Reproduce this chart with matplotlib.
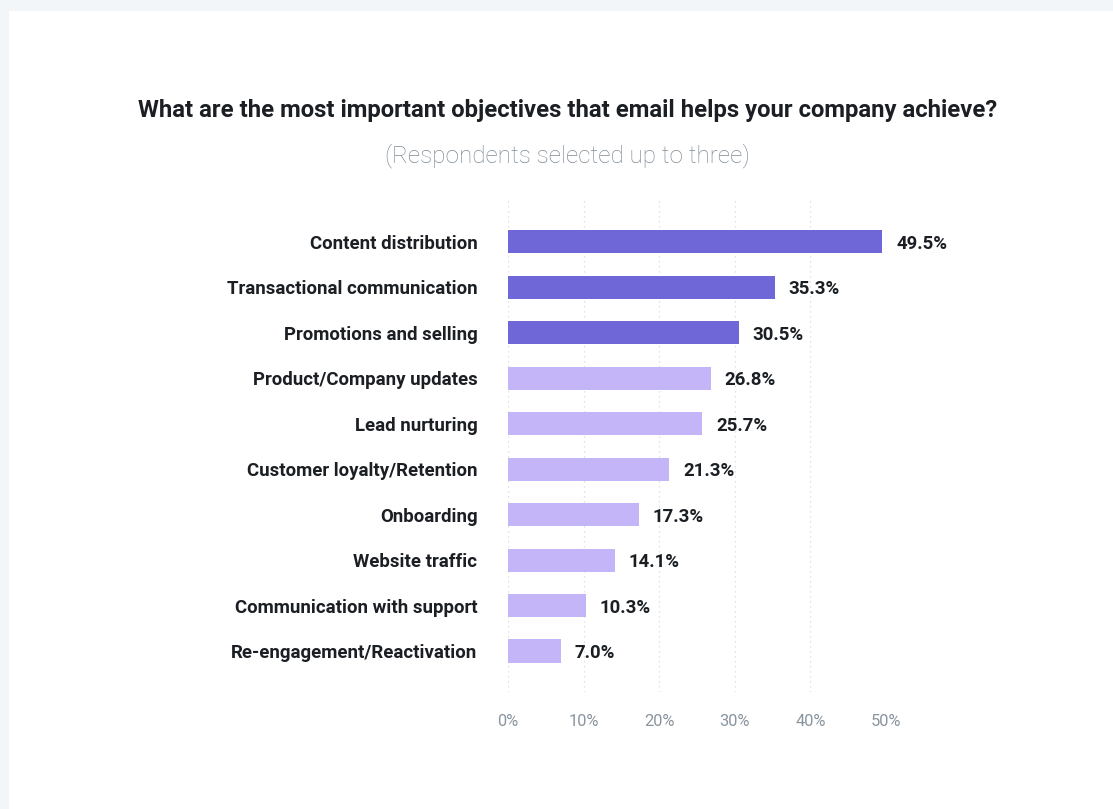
import matplotlib.pyplot as plt
from matplotlib.patches import Rectangle

categories = [
    "Content distribution",
    "Transactional communication",
    "Promotions and selling",
    "Product/Company updates",
    "Lead nurturing",
    "Customer loyalty/Retention",
    "Onboarding",
    "Website traffic",
    "Communication with support",
    "Re-engagement/Reactivation",
]
values = [49.5, 35.3, 30.5, 26.8, 25.7, 21.3, 17.3, 14.1, 10.3, 7.0]
highlight_count = 3
x_ticks = [0, 10, 20, 30, 40, 50]
x_tick_labels = ["0%", "10%", "20%", "30%", "40%", "50%"]

title = "What are the most important objectives that email helps your company achieve?"
subtitle = "(Respondents selected up to three)"

DARK = "#6f66d7"
LIGHT = "#c4b5f8"
TEXT = "#1b1f24"
MUTED = "#7f8a94"
PAGE = "#f3f6f9"

plt.rcParams["font.family"] = ["Roboto", "DejaVu Sans"]

W, H = 1113, 809
fig = plt.figure(figsize=(W / 100, H / 100), dpi=100)
fig.patch.set_facecolor(PAGE)

# white card behind everything
fig.patches.append(Rectangle((9 / W, 0), 1 - 9 / W, 1 - 11 / H,
                             transform=fig.transFigure, facecolor="white",
                             edgecolor="none", zorder=-5))

left, right = 508 / W, 886 / W
bottom, top = 1 - 692 / H, 1 - 200 / H
ax = fig.add_axes([left, bottom, right - left, top - bottom])
ax.set_facecolor("none")
ax.set_zorder(2)

ypos = list(range(len(categories)))
colors = [DARK if i < highlight_count else LIGHT for i in ypos]
ax.barh(ypos, values, height=0.51, color=colors, zorder=2)

ax.set_xlim(0, 50)
ax.set_ylim(len(categories) - 1 + 0.9, -0.92)

ax.set_xticks(x_ticks)
ax.set_xticklabels(x_tick_labels, color="#8a949e", fontsize=11.8)
ax.tick_params(axis="x", length=0, pad=15.5)
ax.set_yticks(ypos)
ax.set_yticklabels(categories, fontsize=13.4, fontweight="bold", color=TEXT)
for lbl in ax.get_yticklabels():
    lbl.set_verticalalignment("center_baseline")
ax.tick_params(axis="y", length=0, pad=22)

ax.grid(axis="x", color="#d5d9de", linestyle=(0, (1, 3)), linewidth=0.9, zorder=1)
for s in ax.spines.values():
    s.set_visible(False)

for y, v in zip(ypos, values):
    ax.text(v + 1.85, y, f"{v:.1f}%", va="center_baseline", ha="left",
            fontsize=13.4, fontweight="bold", color=TEXT)

cx = 567.5 / W
fig.text(cx, 1 - 111 / H, title, ha="center", va="center",
         fontsize=17.2, fontweight="bold", color=TEXT)
fig.text(cx, 1 - 156 / H, subtitle, ha="center", va="center",
         fontsize=17.5, fontweight="light", color=MUTED)

fig.savefig("out.png", dpi=100, facecolor=PAGE)
